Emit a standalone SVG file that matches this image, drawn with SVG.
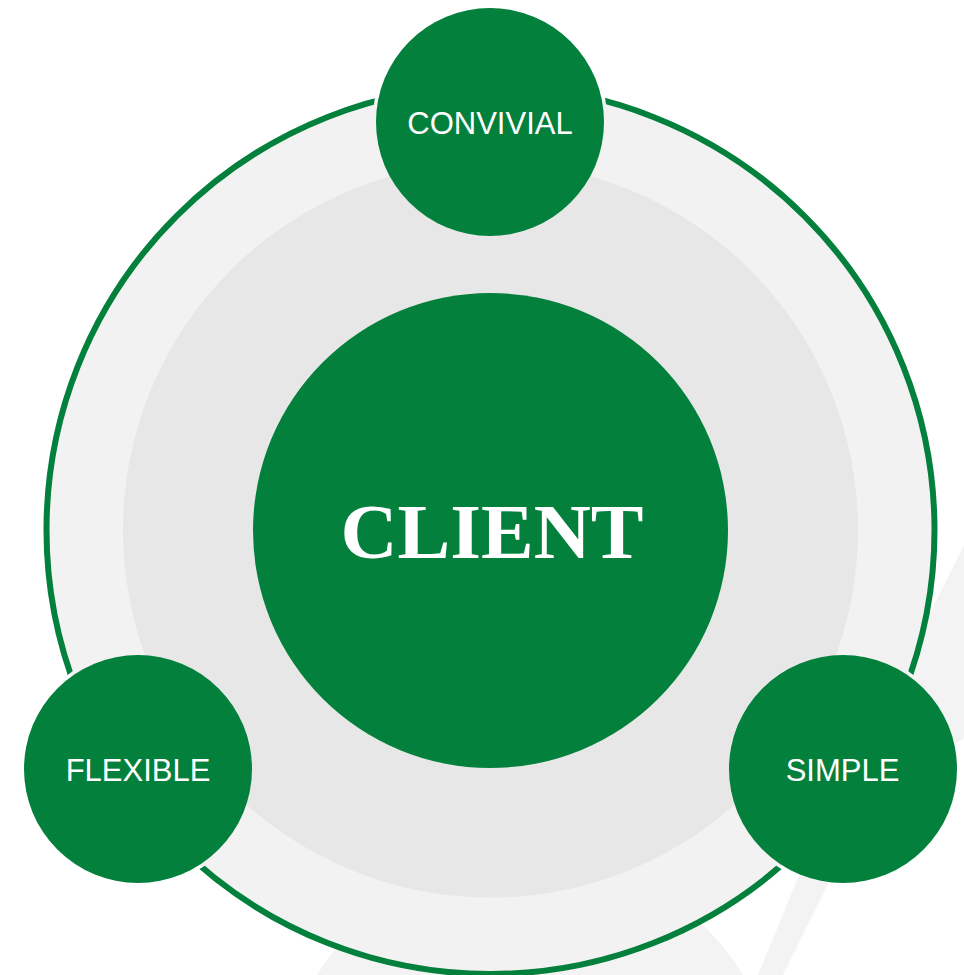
<svg xmlns="http://www.w3.org/2000/svg" width="964" height="975" viewBox="0 0 964 975">
  <style>
    .green { fill: #02803c; }
    .lbl { font-family: "Liberation Sans", Arial, sans-serif; font-size: 31px; fill: #ffffff; text-anchor: middle; }
    .big { font-family: "Liberation Serif", "Times New Roman", serif; font-size: 79px; font-weight: bold; fill: #ffffff; text-anchor: middle; }
  </style>
  <defs>
    <mask id="gap" maskUnits="userSpaceOnUse" x="0" y="0" width="964" height="975">
      <rect width="964" height="975" fill="#ffffff"/>
      <circle cx="490" cy="122" r="117.5" fill="#000000"/>
      <circle cx="138" cy="769" r="117.5" fill="#000000"/>
      <circle cx="843" cy="769" r="117.5" fill="#000000"/>
    </mask>
  </defs>
  <rect width="964" height="975" fill="#ffffff"/>
  <g id="background">
    <path d="M964,545 L800,873 L758,975 L783,975 L830,880 Q880,790 964,738 Z" fill="#f3f3f3"/>
    <circle cx="530" cy="1104" r="249" fill="#f3f3f3"/>
  </g>
  <g id="rings">
    <circle cx="490.5" cy="530" r="444" fill="#f2f2f2"/>
    <circle cx="490.5" cy="530" r="444" fill="none" stroke="#02803c" stroke-width="6" mask="url(#gap)"/>
    <circle cx="490.5" cy="530" r="367.5" fill="#e7e7e7"/>
  </g>
  <g id="connectors"></g>
  <g id="client">
    <circle class="green" cx="490.5" cy="530.5" r="237.5"/>
    <text class="big" x="492" y="558">CLIENT</text>
  </g>
  <g id="convivial">
    <circle class="green" cx="490" cy="122" r="114"/>
    <text class="lbl" x="490" y="134">CONVIVIAL</text>
  </g>
  <g id="flexible">
    <circle class="green" cx="138" cy="769" r="114"/>
    <text class="lbl" x="138" y="781">FLEXIBLE</text>
  </g>
  <g id="simple">
    <circle class="green" cx="843" cy="769" r="114"/>
    <text class="lbl" x="842.5" y="781">SIMPLE</text>
  </g>
</svg>
